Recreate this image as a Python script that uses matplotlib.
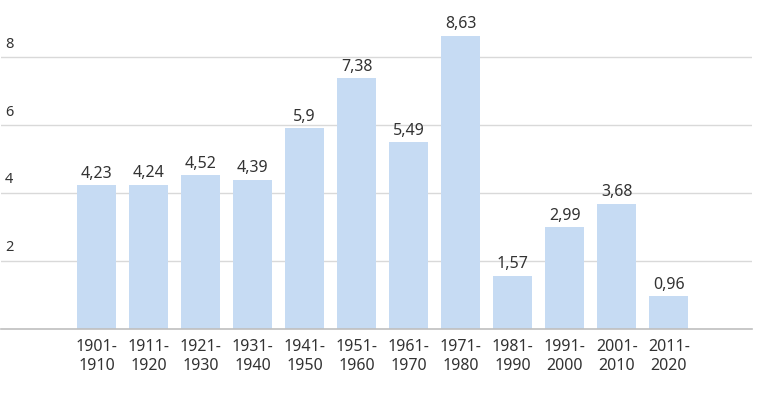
import matplotlib
matplotlib.use("Agg")
import matplotlib.pyplot as plt
import matplotlib.transforms as mtransforms

plt.rcParams["font.family"] = ["Noto Sans", "DejaVu Sans"]

decades = ["1901-\n1910", "1911-\n1920", "1921-\n1930", "1931-\n1940",
           "1941-\n1950", "1951-\n1960", "1961-\n1970", "1971-\n1980",
           "1981-\n1990", "1991-\n2000", "2001-\n2010", "2011-\n2020"]
values = [4.23, 4.24, 4.52, 4.39, 5.9, 7.38, 5.49, 8.63, 1.57, 2.99, 3.68, 0.96]
y_ticks = [2, 4, 6, 8]

BAR = "#c6dbf3"
TEXT = "#333333"

fig = plt.figure(figsize=(7.74, 3.97), dpi=100)
ax = fig.add_axes([1 / 774, 68 / 397, 751 / 774, 329 / 397])

x = list(range(len(values)))
ax.bar(x, values, width=0.75, color=BAR, zorder=2)

# value labels, decimal comma
for xi, v in zip(x, values):
    label = f"{v:g}".replace(".", ",")
    ax.annotate(label, (xi, v), xytext=(0, 2.5), textcoords="offset points",
                ha="center", va="bottom", fontsize=11.5, color=TEXT)

ax.set_xlim(-1.84, len(values) - 1 + 1.6)
ax.set_ylim(0, 9.68)

# y labels sit above their gridlines, inside the plot
ax.set_yticks(y_ticks)
ax.set_yticklabels([])
ax.grid(axis="y", color="#d9d9d9", lw=1, zorder=0)
ax.tick_params(axis="y", length=0)
trans = mtransforms.blended_transform_factory(ax.transAxes, ax.transData)
for t in y_ticks:
    ax.annotate(str(t), (0, t), xycoords=trans, xytext=(3, 4),
                textcoords="offset points", ha="left", va="bottom",
                fontsize=10.5, color=TEXT)

ax.set_xticks(x)
ax.set_xticklabels(decades, fontsize=11.5, color=TEXT, linespacing=1.25)
ax.tick_params(axis="x", length=0, pad=7)

for side in ("top", "right", "left"):
    ax.spines[side].set_visible(False)
ax.spines["bottom"].set_color("#bfbfbf")
ax.spines["bottom"].set_linewidth(1.2)

fig.savefig("out.png", dpi=100)
